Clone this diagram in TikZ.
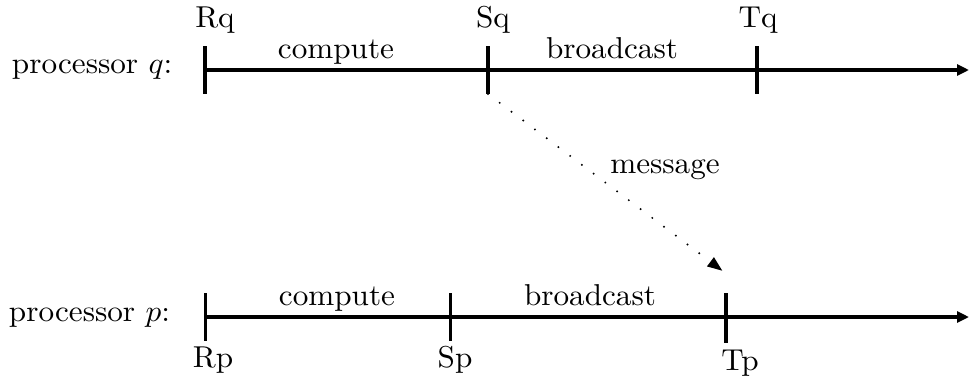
\documentclass[tikz,border=0pt]{standalone}
\usetikzlibrary{arrows.meta}
\newcommand{\lbl}[1]{\scalebox{3.12}[3.02]{\fontsize{10}{12}\selectfont #1}}
\tikzset{
  lab/.style={anchor=base, inner sep=0pt, outer sep=0pt},
  axis/.style={line width=4pt, -{Triangle[length=12pt,width=11pt]}},
  tick/.style={line width=#1},
  msg/.style={line width=2.2pt, dash pattern=on 0pt off 14.7pt, line cap=round,
    shorten >=2pt, -{Triangle[length=15pt,width=11pt]}},
}
\begin{document}
\begin{tikzpicture}[x=1pt,y=-1pt]
\useasboundingbox (0,0) rectangle (969,381);
% processor q
\coordinate (q0) at (205,70);
\coordinate (qend) at (969,70);
\coordinate (rqt) at (205,46); \coordinate (rqb) at (205,94);
\coordinate (sqt) at (488,46); \coordinate (sqb) at (488,94);
\coordinate (tqt) at (757,46); \coordinate (tqb) at (757,94);
\draw[axis] (q0) -- (qend);
\draw[tick=4.5pt] (rqt) -- (rqb);
\draw[tick=4.5pt] (sqt) -- (sqb);
\draw[tick=4.5pt] (tqt) -- (tqb);
\node[lab, anchor=base west] (pq) at (12,73) {\lbl{processor $q$:}};
\node[lab] (rq) at (215,27) {\lbl{Rq}};
\node[lab] (sq) at (493,27) {\lbl{Sq}};
\node[lab] (tq) at (758,27) {\lbl{Tq}};
\node[lab] (cq) at (336,58) {\lbl{compute}};
\node[lab] (bq) at (612,58) {\lbl{broadcast}};
% processor p
\coordinate (p0) at (205,317);
\coordinate (pend) at (969,317);
\coordinate (rpt) at (205,293); \coordinate (rpb) at (205,341);
\coordinate (spt) at (450,293); \coordinate (spb) at (450,341);
\coordinate (tpt) at (726,293); \coordinate (tpb) at (726,343);
\draw[axis, line width=3.5pt] (p0) -- (pend);
\draw[tick=3pt] (rpt) -- (rpb);
\draw[tick=3pt] (spt) -- (spb);
\draw[tick=4pt] (tpt) -- (tpb);
\node[lab, anchor=base west] (pp) at (9,321) {\lbl{processor $p$:}};
\node[lab] (rp) at (213,367) {\lbl{Rp}};
\node[lab] (sp) at (455,367) {\lbl{Sp}};
\node[lab] (tp) at (740,370) {\lbl{Tp}};
\node[lab] (cp) at (337,305) {\lbl{compute}};
\node[lab] (bp) at (590,305) {\lbl{broadcast}};
% message
\coordinate (mend) at (724,272);
\draw[msg] (sqb) -- (mend);
\node[lab] (msgl) at (665,173) {\lbl{message}};
\end{tikzpicture}
\end{document}
